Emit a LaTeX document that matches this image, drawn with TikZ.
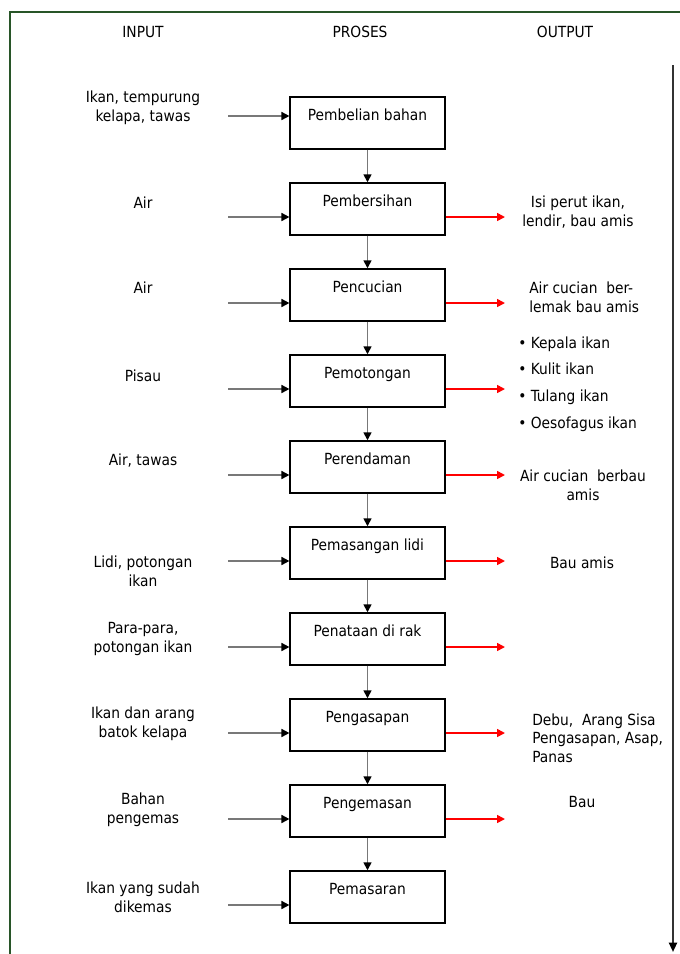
\documentclass[tikz,border=0pt]{standalone}
\usepackage{fontspec}
\setmainfont{DejaVu Sans Condensed}
\usetikzlibrary{arrows.meta}
\definecolor{framegreen}{RGB}{40,85,40}
\definecolor{linegray}{RGB}{120,120,120}

\tikzset{
    txt/.style={font=\fontsize{11.5}{14}\selectfont, align=center, inner sep=0pt},
    box/.style={draw, line width=1.1pt, minimum width=116pt, minimum height=39pt,
        inner ysep=3.75pt, text height=13.5pt, text depth=18pt, font=\fontsize{11.5}{14}\selectfont},
    inarrow/.style={draw=linegray, line width=1.2pt, -{Triangle[color=black,length=6pt,width=6pt]}},
    outarrow/.style={draw=red, line width=1.2pt, -{Triangle[color=red,length=6pt,width=6pt]}},
    downarrow/.style={draw=linegray, line width=1.2pt, -{Triangle[color=black,length=6pt,width=6pt]}}
}

\begin{document}
\begin{tikzpicture}[x=0.75pt,y=-0.75pt]
    \useasboundingbox (0,0) rectangle (680,954);
    \draw[framegreen, line width=1.2pt] (10,960) -- (10,12) -- (690,12);

    % headers
    \node[txt] (hin) at (143,32) {INPUT};
    \node[txt] (hpr) at (360,32) {PROSES};
    \node[txt] (hout) at (565,32) {OUTPUT};

    % process boxes
    \foreach \i/\lab in {1/Pembelian bahan,2/Pembersihan,3/Pencucian,4/Pemotongan,5/Perendaman,
                         6/Pemasangan lidi,7/Penataan di rak,8/Pengasapan,9/Pengemasan,10/Pemasaran}{
        \pgfmathsetmacro{\yb}{123+86*(\i-1)}
        \node[box] (b\i) at (367.5,\yb) {\lab};
    }
    \foreach \i [evaluate=\i as \j using int(\i+1)] in {1,...,9}{
        \draw[downarrow] (b\i.south) -- (b\j.north);
    }

    % inputs
    \node[txt] (in1) at (143,108) {Ikan, tempurung\\kelapa, tawas};
    \node[txt] (in2) at (143,203) {Air};
    \node[txt] (in3) at (143,288) {Air};
    \node[txt] (in4) at (143,376) {Pisau};
    \node[txt] (in5) at (143,461) {Air, tawas};
    \node[txt] (in6) at (143,571) {Lidi, potongan\\ikan};
    \node[txt] (in7) at (143,639) {Para-para,\\potongan ikan};
    \node[txt] (in8) at (143,724) {Ikan dan arang\\batok kelapa};
    \node[txt] (in9) at (143,810) {Bahan\\pengemas};
    \node[txt] (in10) at (143,897) {Ikan yang sudah\\dikemas};

    \coordinate (ia1) at (228,116);
    \draw[inarrow] (ia1) -- (ia1 -| b1.west);
    \foreach \i in {2,...,10}{
        \pgfmathsetmacro{\ya}{131+86*(\i-1)}
        \coordinate (ia\i) at (228,\ya);
        \draw[inarrow] (ia\i) -- (ia\i -| b\i.west);
    }

    % outputs
    \foreach \i in {2,...,9}{
        \pgfmathsetmacro{\ya}{131+86*(\i-1)}
        \coordinate (oa\i) at (505,\ya);
        \draw[outarrow] (oa\i -| b\i.east) -- (oa\i);
    }
    \node[txt] (out2) at (578,212) {Isi perut ikan,\\lendir, bau amis};
    \node[txt, align=left, anchor=west] (out3) at (529,297) {Air cucian\ \ ber-\\lemak bau amis};
    \node[txt, align=left, anchor=west] (out4) at (518,384)
        {\textbullet\ Kepala ikan\\[6pt]\textbullet\ Kulit ikan\\[6pt]\textbullet\ Tulang ikan\\[6pt]\textbullet\ Oesofagus ikan};
    \node[txt] (out5) at (583,485) {Air cucian\ \ berbau\\amis};
    \node[txt] (out6) at (582,563) {Bau amis};
    \node[txt, align=left, anchor=west] (out8) at (532,738) {Debu,\ \ Arang Sisa\\Pengasapan, Asap,\\Panas};
    \node[txt] (out9) at (582,802) {Bau};

    % time axis
    \coordinate (tt) at (673,65);
    \coordinate (tb) at (673,952);
    \draw[black!80, line width=1.5pt, -{Triangle[color=black,length=7pt,width=6pt]}] (tt) -- (tb);
\end{tikzpicture}
\end{document}
